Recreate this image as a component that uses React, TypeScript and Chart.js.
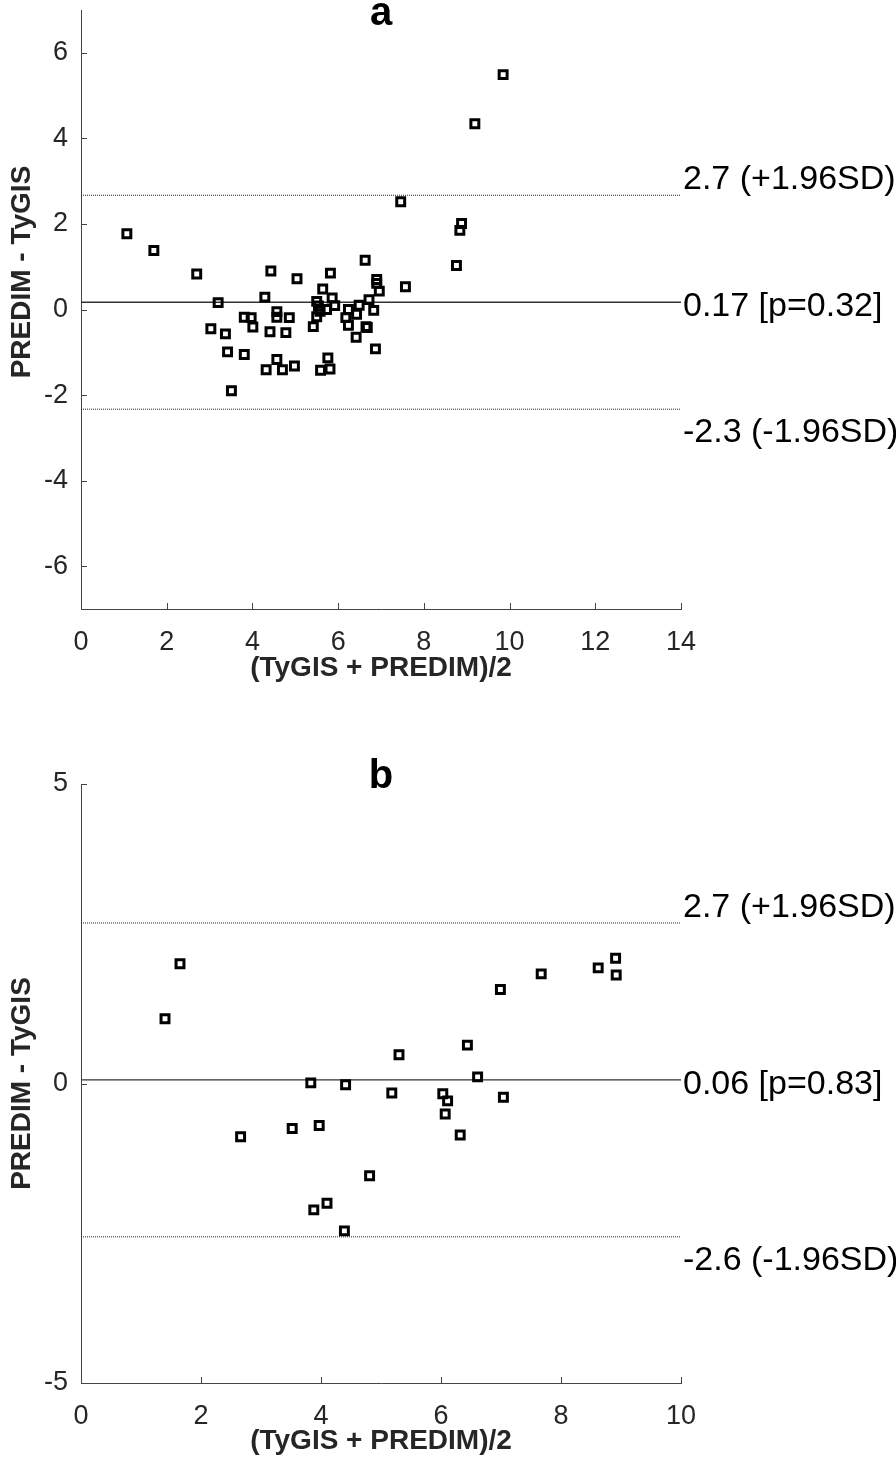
import React, { useEffect, useRef } from 'react';
import { Chart, registerables } from 'chart.js';

Chart.register(...registerables);

// ---------- Panel a data ----------
const aMeans = [
  1.07, 1.70, 2.70, 3.20, 3.03, 3.37, 3.42, 3.51, 3.81, 3.97,
  4.01, 3.81, 4.29, 4.43, 4.41, 4.57, 4.57, 4.57, 4.32, 4.70,
  4.78, 4.86, 4.98, 5.04, 5.42, 5.50, 5.54, 5.58, 5.50, 5.64,
  5.82, 5.73, 5.86, 5.92, 5.76, 5.59, 5.81, 6.63, 6.24, 6.18,
  6.24, 6.43, 6.49, 6.42, 6.72, 6.65, 6.68, 6.83, 6.90, 6.90,
  6.96, 6.87, 7.57, 7.46, 8.76, 8.84, 8.88, 9.19, 9.85,
];
const aDiffs = [
  1.77, 1.38, 0.83, 0.16, -0.45, -0.57, -0.99, -1.90, -0.18, -0.19,
  -0.41, -1.05, 0.29, 0.90, -0.52, -0.05, -0.18, -1.17, -1.41, -1.41,
  -0.54, -0.19, -1.32, 0.72, -0.40, 0.19, 0.08, -0.04, -0.17, 0.48,
  0.85, 0.00, 0.27, 0.09, -1.13, -1.42, -1.39, 1.15, 0.00, -0.19,
  -0.37, -0.11, 0.10, -0.65, 0.23, -0.40, -0.42, -0.02, 0.70, 0.61,
  0.43, -0.92, 0.53, 2.52, 1.03, 1.85, 2.01, 4.34, 5.49,
];
const aXTicks = [0, 2, 4, 6, 8, 10, 12, 14];
const aYTicks = [-6, -4, -2, 0, 2, 4, 6];
const aLimits = [2.67, 0.17, -2.33];
const aLimitLabels = ['2.7 (+1.96SD)', '0.17 [p=0.32]', '-2.3 (-1.96SD)'];

// ---------- Panel b data ----------
const bMeans = [
  1.65, 1.40, 2.66, 3.52, 3.83, 3.97, 3.88, 4.10, 4.41, 4.39,
  4.81, 5.18, 5.30, 6.03, 6.11, 6.07, 6.32, 6.44, 6.61, 7.04,
  6.99, 7.67, 8.62, 8.91, 8.92,
];
const bDiffs = [
  2.00, 1.08, -0.89, -0.75, 0.01, -0.70, -2.11, -2.00, -0.02, -2.46,
  -1.54, -0.16, 0.48, -0.17, -0.29, -0.51, -0.86, 0.64, 0.11, -0.23,
  1.57, 1.83, 1.93, 2.09, 1.81,
];
const bXTicks = [0, 2, 4, 6, 8, 10];
const bYTicks = [-5, 0, 5];
const bLimits = [2.68, 0.06, -2.56];
const bLimitLabels = ['2.7 (+1.96SD)', '0.06 [p=0.83]', '-2.6 (-1.96SD)'];

const FONT = "'Liberation Sans', Arial, Helvetica, sans-serif";
const AXIS_COLOR = '#444444';
const TEXT_COLOR = '#262626';

type PanelCfg = {
  letter: string;
  means: number[];
  diffs: number[];
  xTicks: number[];
  yTicks: number[];
  xMin: number;
  xMax: number;
  yMin: number;
  yMax: number;
  limits: number[];
  limitLabels: string[];
  canvasHeight: number;
  padTop: number;
  xAxisHeight: number;
  letterBaseline: number;
  yTitleCenter: number | null;
};

const overlayPlugin = {
  id: 'baOverlay',
  afterDraw(chart: any, _args: any, opts: any) {
    const ctx = chart.ctx as CanvasRenderingContext2D;
    const { left, right, top, bottom } = chart.chartArea;
    const xs = chart.scales.x;
    const ys = chart.scales.y;
    ctx.save();
    // inward ticks
    ctx.strokeStyle = AXIS_COLOR;
    ctx.lineWidth = 1;
    ctx.beginPath();
    xs.ticks.forEach((t: any) => {
      const px = Math.round(xs.getPixelForValue(t.value)) + 0.5;
      ctx.moveTo(px, bottom);
      ctx.lineTo(px, bottom - 6);
    });
    ys.ticks.forEach((t: any) => {
      const py = Math.round(ys.getPixelForValue(t.value)) + 0.5;
      ctx.moveTo(left, py);
      ctx.lineTo(left + 6, py);
    });
    ctx.stroke();

    // limit labels
    ctx.fillStyle = '#000';
    ctx.font = `34px ${FONT}`;
    ctx.textAlign = 'left';
    ctx.textBaseline = 'alphabetic';
    const offs = [-6, 14, 33];
    (opts.limits as number[]).forEach((v, i) => {
      const py = ys.getPixelForValue(v);
      ctx.fillText(opts.labels[i], right + 2, py + offs[i]);
    });

    // panel letter
    ctx.fillStyle = '#000';
    ctx.font = `bold 40px ${FONT}`;
    ctx.textAlign = 'center';
    ctx.fillText(opts.letter, (left + right) / 2, opts.letterBaseline);

    // y title
    const cy = opts.yTitleCenter == null ? (top + bottom) / 2 : opts.yTitleCenter;
    ctx.translate(22, cy);
    ctx.rotate(-Math.PI / 2);
    ctx.font = `bold 28px ${FONT}`;
    ctx.fillStyle = TEXT_COLOR;
    ctx.textAlign = 'center';
    ctx.textBaseline = 'middle';
    ctx.fillText('PREDIM - TyGIS', 0, 0);
    ctx.restore();
  },
};

function Panel({ cfg }: { cfg: PanelCfg }) {
  const ref = useRef<HTMLCanvasElement | null>(null);
  useEffect(() => {
    if (!ref.current) return;
    const points = cfg.means.map((m, i) => ({ x: m, y: cfg.diffs[i] }));
    const lineSets = cfg.limits.map((v, i) => ({
      type: 'line' as const,
      data: [
        { x: cfg.xMin, y: v },
        { x: cfg.xMax, y: v },
      ],
      borderColor: i === 1 ? '#333333' : '#222222',
      borderWidth: i === 1 ? 1.3 : 1,
      borderDash: i === 1 ? [] : [1, 1],
      pointRadius: 0,
      fill: false,
      order: 2,
    }));
    const chart = new Chart(ref.current, {
      type: 'scatter',
      data: {
        datasets: [
          ...lineSets,
          {
            type: 'scatter',
            data: points,
            pointStyle: 'rect',
            pointRadius: 5.6,
            pointBorderWidth: 3,
            borderColor: '#000',
            backgroundColor: 'rgba(0,0,0,0)',
            pointBackgroundColor: 'rgba(0,0,0,0)',
            pointBorderColor: '#000',
            order: 1,
          } as any,
        ],
      },
      options: {
        animation: false,
        responsive: false,
        devicePixelRatio: 1,
        events: [],
        layout: { padding: { top: cfg.padTop, left: 0, right: 215, bottom: 0 } },
        plugins: {
          legend: { display: false },
          tooltip: { enabled: false },
          baOverlay: {
            limits: cfg.limits,
            labels: cfg.limitLabels,
            letter: cfg.letter,
            letterBaseline: cfg.letterBaseline,
            yTitleCenter: cfg.yTitleCenter,
          },
        } as any,
        scales: {
          x: {
            type: 'linear',
            min: cfg.xMin,
            max: cfg.xMax,
            grid: { display: false, drawTicks: false },
            border: { display: true, color: AXIS_COLOR, width: 1 },
            ticks: {
              font: { family: FONT, size: 27 },
              color: TEXT_COLOR,
              padding: 17,
              autoSkip: false,
              maxRotation: 0,
            },
            afterBuildTicks: (s: any) => {
              s.ticks = cfg.xTicks.map((v) => ({ value: v }));
            },
            afterFit: (s: any) => {
              s.height = cfg.xAxisHeight;
              s.paddingLeft = 0;
              s.paddingRight = 0;
            },
            title: {
              display: true,
              text: '(TyGIS + PREDIM)/2',
              font: { family: FONT, size: 28, weight: 'bold' },
              color: TEXT_COLOR,
              padding: { top: 0, bottom: 15 },
            },
          },
          y: {
            type: 'linear',
            min: cfg.yMin,
            max: cfg.yMax,
            grid: { display: false, drawTicks: false },
            border: { display: true, color: AXIS_COLOR, width: 1 },
            ticks: {
              font: { family: FONT, size: 27 },
              color: TEXT_COLOR,
              padding: 13,
              autoSkip: false,
            },
            afterBuildTicks: (s: any) => {
              s.ticks = cfg.yTicks.map((v) => ({ value: v }));
            },
            afterFit: (s: any) => {
              s.width = 81;
              s.paddingTop = 0;
              s.paddingBottom = 0;
            },
          },
        },
      } as any,
      plugins: [overlayPlugin],
    });
    return () => chart.destroy();
  }, [cfg]);
  return (
    <canvas
      ref={ref}
      width={896}
      height={cfg.canvasHeight}
      style={{ display: 'block', width: 896, height: cfg.canvasHeight }}
    />
  );
}

const panelA: PanelCfg = {
  letter: 'a',
  means: aMeans,
  diffs: aDiffs,
  xTicks: aXTicks,
  yTicks: aYTicks,
  xMin: 0,
  xMax: 14,
  yMin: -7,
  yMax: 7,
  limits: aLimits,
  limitLabels: aLimitLabels,
  canvasHeight: 700,
  padTop: 10,
  xAxisHeight: 91,
  letterBaseline: 25,
  yTitleCenter: 272,
};

const panelB: PanelCfg = {
  letter: 'b',
  means: bMeans,
  diffs: bDiffs,
  xTicks: bXTicks,
  yTicks: bYTicks,
  xMin: 0,
  xMax: 10,
  yMin: -5,
  yMax: 5,
  limits: bLimits,
  limitLabels: bLimitLabels,
  canvasHeight: 773,
  padTop: 84,
  xAxisHeight: 90,
  letterBaseline: 88,
  yTitleCenter: null,
};

export default function App() {
  return (
    <div style={{ position: 'absolute', left: 0, top: 0, width: 896, background: '#fff' }}>
      <Panel cfg={panelA} />
      <Panel cfg={panelB} />
    </div>
  );
}
